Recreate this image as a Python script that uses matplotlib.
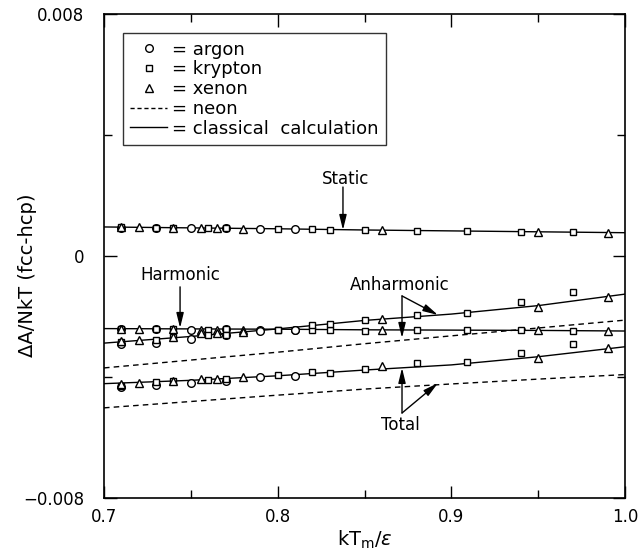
import matplotlib
matplotlib.use('Agg')
import matplotlib.pyplot as plt
from matplotlib.ticker import FixedLocator, FuncFormatter
from matplotlib.lines import Line2D

plt.rcParams['font.family'] = ['DejaVu Sans']

# ---- classical calculation curves ----
calc_x = [0.70, 0.75, 0.80, 0.85, 0.90, 0.95, 1.00]
calc_static = [0.00096, 0.00093, 0.00090, 0.00086, 0.00083, 0.00080, 0.00077]
calc_harmonic = [-0.00240, -0.00241, -0.00242, -0.00244, -0.00245, -0.00246, -0.00248]
calc_anharmonic = [-0.00288, -0.00266, -0.00241, -0.00213, -0.00192, -0.00164, -0.00126]
calc_total = [-0.00422, -0.00411, -0.00396, -0.00377, -0.00360, -0.00333, -0.00300]

# ---- neon (dashed) ----
neon_x = [0.70, 0.75, 0.80, 0.85, 0.90, 0.95, 1.00]
neon_anharmonic = [-0.00370, -0.00344, -0.00318, -0.00290, -0.00264, -0.00238, -0.00212]
neon_total = [-0.00502, -0.00481, -0.00460, -0.00440, -0.00423, -0.00407, -0.00392]

# ---- argon (circles) ----
ar_x = [0.71, 0.73, 0.75, 0.77, 0.79, 0.81]
ar_static = [0.00094, 0.00093, 0.00092, 0.00091, 0.00090, 0.00089]
ar_harmonic = [-0.00240, -0.00240, -0.00246, -0.00242, -0.00243, -0.00243]
ar_anharmonic = [-0.00292, -0.00287, -0.00274, -0.00260, -0.00247, -0.00245]
ar_total = [-0.00434, -0.00426, -0.00419, -0.00413, -0.00399, -0.00397]

# ---- krypton (squares) ----
kr_x = [0.71, 0.73, 0.74, 0.76, 0.77, 0.80, 0.82, 0.83, 0.85, 0.88, 0.909, 0.94, 0.97]
kr_static = [0.00095, 0.00094, 0.00093, 0.00092, 0.00091, 0.00089, 0.00088, 0.00087,
             0.00086, 0.00084, 0.00082, 0.00080, 0.00079]
kr_harmonic = [-0.00240, -0.00240, -0.00241, -0.00244, -0.00242, -0.00243, -0.00243, -0.00243,
               -0.00248, -0.00245, -0.00245, -0.00245, -0.00247]
kr_anharmonic = [-0.00285, -0.00278, -0.00269, -0.00261, -0.00260, -0.00245, -0.00228, -0.00225,
                 -0.00212, -0.00195, -0.00189, -0.00151, -0.00120]
kr_total = [-0.00430, -0.00416, -0.00413, -0.00410, -0.00406, -0.00394, -0.00383, -0.00386,
            -0.00373, -0.00355, -0.00350, -0.00322, -0.00292]

# ---- xenon (triangles) ----
xe_x = [0.71, 0.72, 0.74, 0.756, 0.765, 0.78, 0.86, 0.95, 0.99]
xe_static = [0.00095, 0.00095, 0.00093, 0.00092, 0.00092, 0.00090, 0.00085, 0.00080, 0.00077]
xe_harmonic = [-0.00240, -0.00240, -0.00241, -0.00246, -0.00245, -0.00244, -0.00245, -0.00245, -0.00248]
xe_anharmonic = [-0.00280, -0.00278, -0.00269, -0.00256, -0.00256, -0.00250, -0.00207, -0.00170, -0.00135]
xe_total = [-0.00423, -0.00419, -0.00413, -0.00408, -0.00407, -0.00401, -0.00363, -0.00336, -0.00305]

x_ticks_major = [0.7, 0.8, 0.9, 1.0]
x_ticks_minor = [0.75, 0.85, 0.95]
y_ticks_major = [-0.008, 0.0, 0.008]
y_ticks_minor = [-0.004, 0.004]

fig = plt.figure(figsize=(6.41, 5.52), dpi=100)
ax = fig.add_axes([104 / 641, 1 - 498 / 552, (625 - 104) / 641, (498 - 14) / 552])

lw = 1.0
for yv in (calc_static, calc_harmonic, calc_anharmonic, calc_total):
    ax.plot(calc_x, yv, '-', color='black', lw=lw, zorder=2)
for yv in (neon_anharmonic, neon_total):
    ax.plot(neon_x, yv, '--', color='black', lw=lw, dashes=(4, 3), zorder=2)

mk = dict(linestyle='none', markerfacecolor='white', markeredgecolor='black',
          markeredgewidth=1.0, zorder=3)
for yv in (ar_static, ar_harmonic, ar_anharmonic, ar_total):
    ax.plot(ar_x, yv, marker='o', markersize=5.5, **mk)
for yv in (kr_static, kr_harmonic, kr_anharmonic, kr_total):
    ax.plot(kr_x, yv, marker='s', markersize=5, **mk)
for yv in (xe_static, xe_harmonic, xe_anharmonic, xe_total):
    ax.plot(xe_x, yv, marker='^', markersize=5.5, **mk)

ax.set_xlim(0.7, 1.0)
ax.set_ylim(-0.008, 0.008)
ax.xaxis.set_major_locator(FixedLocator(x_ticks_major))
ax.xaxis.set_minor_locator(FixedLocator(x_ticks_minor))
ax.yaxis.set_major_locator(FixedLocator(y_ticks_major))
ax.yaxis.set_minor_locator(FixedLocator(y_ticks_minor))
ax.xaxis.set_major_formatter(FuncFormatter(lambda v, p: f"{v:.1f}"))
ax.yaxis.set_major_formatter(FuncFormatter(lambda v, p: "0" if abs(v) < 1e-12 else f"{v:.3f}".replace('-', '\u2212')))
ax.tick_params(which='both', direction='in', top=True, right=True, width=1.0, labelsize=12)
ax.tick_params(which='major', length=9)
ax.tick_params(axis='x', which='major', pad=7)
ax.tick_params(axis='y', which='major', pad=14)
ax.tick_params(which='minor', length=6)
for s in ax.spines.values():
    s.set_linewidth(1.2)

ax.set_xlabel(r'kT$_\mathrm{m}$/$\varepsilon$', fontsize=14, labelpad=2)
ax.set_ylabel('\u0394A/NkT (fcc-hcp)', fontsize=14)
ax.yaxis.set_label_coords(-0.128, 0.46)

# annotations
arr = dict(arrowstyle='-|>,head_length=0.9,head_width=0.22', color='black', lw=1.0,
           shrinkA=0, shrinkB=0)
ax.text(0.839, 0.00255, 'Static', ha='center', va='center', fontsize=12)
ax.annotate('', xy=(0.8376, 0.00086), xytext=(0.8376, 0.00228), arrowprops=arr)
ax.text(0.7438, -0.00063, 'Harmonic', ha='center', va='center', fontsize=12)
ax.annotate('', xy=(0.7438, -0.00238), xytext=(0.7438, -0.00102), arrowprops=arr)
ax.text(0.8704, -0.00096, 'Anharmonic', ha='center', va='center', fontsize=12)
ax.annotate('', xy=(0.8716, -0.00271), xytext=(0.8716, -0.00132), arrowprops=arr)
ax.annotate('', xy=(0.8923, -0.00195), xytext=(0.8716, -0.00132), arrowprops=arr)
ax.text(0.8704, -0.00559, 'Total', ha='center', va='center', fontsize=12)
ax.annotate('', xy=(0.8716, -0.00370), xytext=(0.8716, -0.00519), arrowprops=arr)
ax.annotate('', xy=(0.8923, -0.00420), xytext=(0.8716, -0.00519), arrowprops=arr)

handles = [
    Line2D([], [], marker='o', markersize=5.5, **mk),
    Line2D([], [], marker='s', markersize=5, **mk),
    Line2D([], [], marker='^', markersize=5.5, **mk),
    Line2D([], [], color='black', lw=1.0, linestyle='--', dashes=(3, 2)),
    Line2D([], [], color='black', lw=1.0, linestyle='-'),
]
labels = ['= argon', '= krypton', '= xenon', '= neon', '= classical  calculation']
leg = ax.legend(handles, labels, loc='upper left', bbox_to_anchor=(0.037, 0.96),
                fontsize=13, frameon=True, fancybox=False, edgecolor='black',
                handlelength=2.0, handletextpad=0.3, labelspacing=0.1,
                borderpad=0.4, borderaxespad=0.0)
leg.get_frame().set_linewidth(1.0)

fig.savefig('out.png', dpi=100)
